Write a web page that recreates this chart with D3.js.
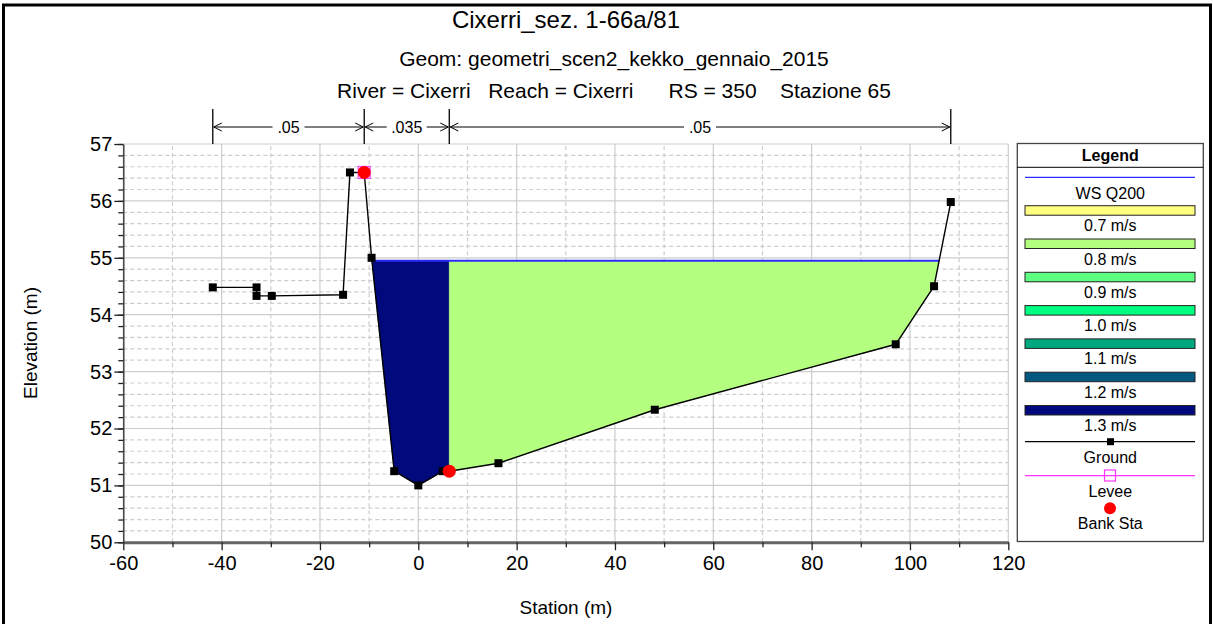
<!DOCTYPE html>
<html>
<head>
<meta charset="utf-8">
<script src="https://cdn.jsdelivr.net/npm/d3@7"></script>
<style>
  body { margin: 0; background: #fff; }
  text { font-family: "Liberation Sans", Arial, sans-serif; fill: #000; }
</style>
</head>
<body>
<svg id="main" width="1213" height="624"></svg>
<script>
// ground profile
const station   = [-41.8, -32.9, -32.9, -29.8, -15.3, -13.9, -11.0, -9.5, -4.9, 0.0, 5.0, 6.3, 16.3, 48.1, 97.1, 104.9, 108.3];
const elevation = [54.48, 54.48, 54.33, 54.33, 54.35, 56.50, 56.50, 55.00, 51.25, 51.00, 51.25, 51.25, 51.39, 52.33, 53.48, 54.50, 55.98];

const bankStations = [-11.0, 6.3];
const levee = [[-11.0, 56.50]];
const wsElev = 54.95;

// flow areas: [from, to, velocity class]
const flowZones = [[-11.0, 6.3, '1.3 m/s'], [6.3, 108.3, '0.8 m/s']];

// manning n
const nBreaks = [-41.8, -11.0, 6.3, 108.3];
const nValues = ['.05', '.035', '.05'];

const velLabels = ['0.7 m/s', '0.8 m/s', '0.9 m/s', '1.0 m/s', '1.1 m/s', '1.2 m/s', '1.3 m/s'];
const velColors = ['#ffff80', '#b4ff80', '#5cff80', '#00ff80', '#00a880', '#005880', '#000a7c'];

const xTicks = [-60, -40, -20, 0, 20, 40, 60, 80, 100, 120];
const yTicks = [50, 51, 52, 53, 54, 55, 56, 57];

const titleLines = ['Cixerri_sez. 1-66a/81', 'Geom: geometri_scen2_kekko_gennaio_2015',
  'River = Cixerri   Reach = Cixerri      RS = 350    Stazione 65'];

const svg = d3.select('#main');

const x = d3.scaleLinear().domain([-60, 120]).range([123.3, 1008.3]);
const y = d3.scaleLinear().domain([50, 57]).range([542.3, 144]);
const velColor = d3.scaleOrdinal().domain(velLabels).range(velColors);

// outer frame
svg.append('rect')
  .attr('x', 3.5).attr('y', 5).attr('width', 1207).attr('height', 660)
  .style('fill', 'none').style('stroke', '#000').style('stroke-width', 3);

// titles
const tSize = [24, 21, 21], tY = [28, 66, 98], tX = [566, 614, 614];
titleLines.forEach((t, i) => {
  svg.append('text')
    .attr('x', tX[i]).attr('y', tY[i])
    .attr('text-anchor', 'middle')
    .attr('xml:space', 'preserve')
    .style('white-space', 'pre')
    .style('font-size', tSize[i] + 'px')
    .text(t);
});

// grid
const grid = svg.append('g').attr('class', 'grid');
grid.selectAll('.vg').data(d3.range(-60, 121, 10)).join('line')
  .attr('x1', d => x(d)).attr('x2', d => x(d))
  .attr('y1', y(50)).attr('y2', y(57))
  .style('stroke', '#cdcdcd').style('stroke-width', 1.2)
  .style('stroke-dasharray', d => d % 20 === 0 ? null : '4,3');
grid.selectAll('.hg').data(d3.range(0, 36).map(i => 50 + i * 0.2)).join('line')
  .attr('x1', x(-60)).attr('x2', x(120))
  .attr('y1', d => y(d)).attr('y2', d => y(d))
  .style('stroke', '#cdcdcd').style('stroke-width', 1.2)
  .style('stroke-dasharray', d => Math.abs(d - Math.round(d)) < 1e-6 ? null : '4,3');

// water fills
const ground = station.map((s, i) => ({ s: s, e: elevation[i] }));
const groundAt = s => {
  for (let i = 1; i < ground.length; i++) {
    const a = ground[i - 1], b = ground[i];
    if (s >= a.s && s <= b.s && b.s > a.s) return a.e + (b.e - a.e) * (s - a.s) / (b.s - a.s);
  }
  return null;
};
// wetted limits: crossings of the water surface nearest the thalweg
const thalweg = ground[d3.minIndex(ground, g => g.e)].s;
const crossings = [];
for (let i = 1; i < ground.length; i++) {
  const a = ground[i - 1], b = ground[i];
  if ((a.e - wsElev) * (b.e - wsElev) < 0) crossings.push(a.s + (b.s - a.s) * (wsElev - a.e) / (b.e - a.e));
}
const wetL = d3.max(crossings.filter(c => c < thalweg));
const wetR = d3.min(crossings.filter(c => c > thalweg));

const area = d3.area().x(d => x(d.s)).y0(d => y(d.e)).y1(y(wsElev));
flowZones.forEach(z => {
  const lo = Math.max(z[0], wetL), hi = Math.min(z[1], wetR);
  const pts = [{ s: lo, e: groundAt(lo) }]
    .concat(ground.filter(g => g.s > lo && g.s < hi))
    .concat([{ s: hi, e: groundAt(hi) }]);
  svg.append('path').attr('d', area(pts))
    .style('fill', velColor(z[2])).style('stroke', velColor(z[2])).style('stroke-width', 0.5);
});

// water surface
svg.append('line')
  .attr('x1', x(wetL)).attr('x2', x(wetR))
  .attr('y1', y(wsElev)).attr('y2', y(wsElev))
  .style('stroke', '#2b2bff').style('stroke-width', 2);

// axes
const fmt = d => String(d);
const yAxis = svg.append('g').attr('transform', `translate(${x(-60)},0)`)
  .call(d3.axisLeft(y).tickValues(yTicks).tickFormat(fmt).tickSize(9).tickSizeOuter(0).tickPadding(2));
svg.append('g').attr('transform', `translate(${x(-60)},0)`)
  .call(d3.axisLeft(y).tickValues(d3.range(0, 36).map(i => 50 + i * 0.2)).tickSize(5).tickFormat(''))
  .call(g => g.select('.domain').remove());
yAxis.select('.domain').style('stroke', '#444').style('stroke-width', 1.5);

const xAxis = svg.append('g').attr('transform', `translate(0,${y(50)})`)
  .call(d3.axisBottom(x).tickValues(xTicks).tickFormat(fmt).tickSize(8).tickSizeOuter(0).tickPadding(6));
svg.append('g').attr('transform', `translate(0,${y(50)})`)
  .call(d3.axisBottom(x).tickValues(d3.range(-50, 120, 20)).tickSize(5).tickFormat(''))
  .call(g => g.select('.domain').remove());
xAxis.select('.domain').style('stroke', '#666').style('stroke-width', 3);

svg.selectAll('.tick line').style('stroke', '#222').style('stroke-width', 1.3);
svg.selectAll('.tick text').style('font-size', '20px').style('font-family', '"Liberation Sans", Arial, sans-serif').style('fill', '#000');

// axis titles
svg.append('text').attr('x', 566).attr('y', 614).attr('text-anchor', 'middle')
  .style('font-size', '19px').text('Station (m)');
svg.append('text').attr('transform', `translate(37,343) rotate(-90)`).attr('text-anchor', 'middle')
  .style('font-size', '19px').text('Elevation (m)');

// ground line + markers
const line = d3.line().x(d => x(d.s)).y(d => y(d.e));
svg.append('path').attr('d', line(ground))
  .style('fill', 'none').style('stroke', '#000').style('stroke-width', 1.4);
svg.selectAll('.gpt').data(ground).join('rect')
  .attr('x', d => x(d.s) - 4).attr('y', d => y(d.e) - 4)
  .attr('width', 8).attr('height', 8).style('fill', '#000');

// levee
svg.selectAll('.lev').data(levee).join('rect')
  .attr('x', d => x(d[0]) - 6).attr('y', d => y(d[1]) - 6)
  .attr('width', 12).attr('height', 12)
  .style('fill', 'none').style('stroke', '#ff44ff').style('stroke-width', 1.2);

// bank stations
svg.selectAll('.bank').data(bankStations).join('circle')
  .attr('cx', d => x(d)).attr('cy', d => y(groundAt(d)))
  .attr('r', 6.5).style('fill', '#ff0000');

// manning n annotation
const nTop = 109, nArrowY = 127;
const nG = svg.append('g');
nG.selectAll('.nv').data(nBreaks).join('line')
  .attr('x1', d => x(d)).attr('x2', d => x(d))
  .attr('y1', nTop).attr('y2', y(57))
  .style('stroke', '#000').style('stroke-width', 1.3);
nValues.forEach((v, i) => {
  const a = x(nBreaks[i]), b = x(nBreaks[i + 1]), mid = (a + b) / 2;
  const tw = v.length * 8 + 8;
  nG.append('line').attr('x1', a + 1).attr('x2', mid - tw / 2).attr('y1', nArrowY).attr('y2', nArrowY)
    .style('stroke', '#000').style('stroke-width', 1);
  nG.append('line').attr('x1', mid + tw / 2).attr('x2', b - 1).attr('y1', nArrowY).attr('y2', nArrowY)
    .style('stroke', '#000').style('stroke-width', 1);
  nG.append('path').attr('d', `M${a + 9},${nArrowY - 4}L${a + 1},${nArrowY}L${a + 9},${nArrowY + 4}`)
    .style('fill', 'none').style('stroke', '#000').style('stroke-width', 1);
  nG.append('path').attr('d', `M${b - 9},${nArrowY - 4}L${b - 1},${nArrowY}L${b - 9},${nArrowY + 4}`)
    .style('fill', 'none').style('stroke', '#000').style('stroke-width', 1);
  nG.append('text').attr('x', mid).attr('y', nArrowY + 6).attr('text-anchor', 'middle')
    .style('font-size', '16px').text(v);
});

// legend
const lg = svg.append('g');
const lx0 = 1017.3, lx1 = 1203.3, lcx = (lx0 + lx1) / 2;
lg.append('rect').attr('x', lx0).attr('y', 143.5).attr('width', lx1 - lx0).attr('height', 398)
  .style('fill', '#fff').style('stroke', '#444').style('stroke-width', 1.3);
lg.append('line').attr('x1', lx0).attr('x2', lx1).attr('y1', 167.3).attr('y2', 167.3)
  .style('stroke', '#000').style('stroke-width', 1);
lg.append('text').attr('x', lcx).attr('y', 161).attr('text-anchor', 'middle')
  .style('font-size', '16px').style('font-weight', 'bold').text('Legend');

const sx0 = 1025, sx1 = 1195;
lg.append('line').attr('x1', sx0).attr('x2', sx1).attr('y1', 177.3).attr('y2', 177.3)
  .style('stroke', '#2b2bff').style('stroke-width', 1.3);
lg.append('text').attr('x', lcx).attr('y', 199).attr('text-anchor', 'middle')
  .style('font-size', '16px').text('WS Q200');

velLabels.forEach((v, i) => {
  const ty = 205.7 + i * 33.3;
  lg.append('rect').attr('x', sx0).attr('y', ty).attr('width', sx1 - sx0).attr('height', 9.5)
    .style('fill', velColor(v)).style('stroke', '#222').style('stroke-width', 1);
  lg.append('text').attr('x', lcx).attr('y', ty + 25.5).attr('text-anchor', 'middle')
    .style('font-size', '16px').text(v);
});

lg.append('line').attr('x1', sx0).attr('x2', sx1).attr('y1', 441.7).attr('y2', 441.7)
  .style('stroke', '#000').style('stroke-width', 1.3);
lg.append('rect').attr('x', 1107).attr('y', 438.2).attr('width', 7).attr('height', 7).style('fill', '#000');
lg.append('text').attr('x', lcx).attr('y', 463).attr('text-anchor', 'middle')
  .style('font-size', '16px').text('Ground');

lg.append('line').attr('x1', sx0).attr('x2', sx1).attr('y1', 475.7).attr('y2', 475.7)
  .style('stroke', '#ff33ff').style('stroke-width', 1.3);
lg.append('rect').attr('x', 1104.5).attr('y', 470).attr('width', 11).attr('height', 11)
  .style('fill', 'none').style('stroke', '#ff33ff').style('stroke-width', 1.2);
lg.append('text').attr('x', lcx).attr('y', 497).attr('text-anchor', 'middle')
  .style('font-size', '16px').text('Levee');

lg.append('circle').attr('cx', 1110).attr('cy', 508.3).attr('r', 6).style('fill', '#ff0000');
lg.append('text').attr('x', lcx).attr('y', 529).attr('text-anchor', 'middle')
  .style('font-size', '16px').text('Bank Sta');
</script>
</body>
</html>
